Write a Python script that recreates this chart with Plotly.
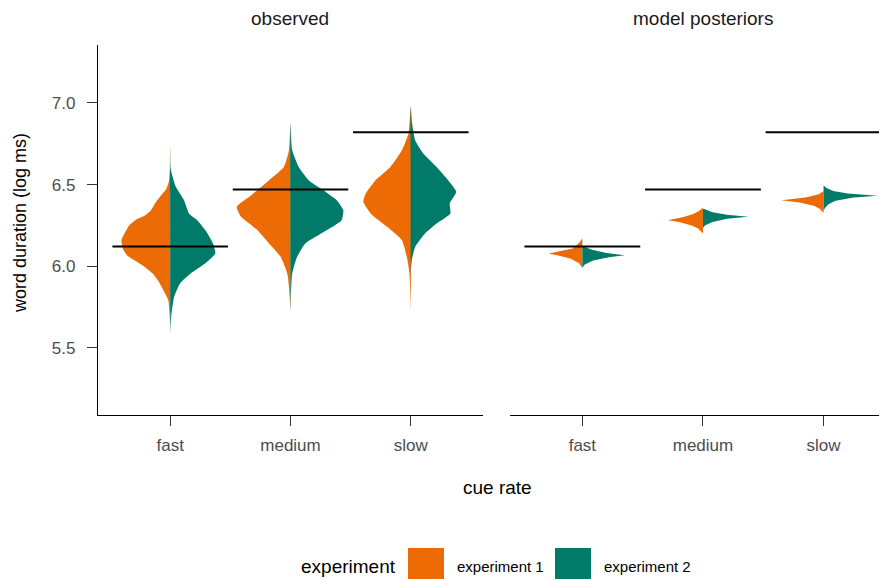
import plotly.graph_objects as go

categories = ["fast", "medium", "slow"]
cat_pos = [1, 2, 3]
line_values = [6.12, 6.47, 6.82]
experiments = ["experiment 1", "experiment 2"]
colors = {"experiment 1": "#EC6B05", "experiment 2": "#017A6A"}

# observed densities: y grid and half-width (category units), per category
obs_e1_y = {
    "fast": [6.75, 6.6, 6.52, 6.47, 6.43, 6.38, 6.343, 6.31, 6.282, 6.25, 6.22, 6.16, 6.1,
             6.06, 6.037, 6.0, 5.955, 5.91, 5.873, 5.83, 5.792, 5.71, 5.6],
    "medium": [6.874, 6.71, 6.608, 6.527, 6.425, 6.363, 6.302, 6.22, 6.139, 6.057, 5.955, 5.833, 5.72],
    "slow": [6.976, 6.813, 6.71, 6.608, 6.527, 6.445, 6.394, 6.323, 6.241, 6.159, 6.057, 5.955, 5.72],
}
obs_e1_w = {
    "fast": [0, 0.003, 0.01, 0.035, 0.08, 0.13, 0.16, 0.21, 0.29, 0.34, 0.365, 0.405, 0.39,
             0.35, 0.30, 0.22, 0.145, 0.10, 0.071, 0.04, 0.016, 0.005, 0],
    "medium": [0, 0.013, 0.055, 0.178, 0.343, 0.447, 0.41, 0.274, 0.178, 0.082, 0.027, 0.008, 0],
    "slow": [0, 0.019, 0.074, 0.17, 0.293, 0.375, 0.395, 0.334, 0.197, 0.074, 0.033, 0.011, 0],
}
obs_e2_y = {
    "fast": [6.75, 6.6, 6.486, 6.404, 6.323, 6.282, 6.22, 6.139, 6.078, 6.016, 5.955, 5.894, 5.812, 5.69, 5.58],
    "medium": [6.874, 6.71, 6.608, 6.527, 6.465, 6.404, 6.343, 6.282, 6.22, 6.139, 6.057, 5.955, 5.833, 5.72],
    "slow": [6.98, 6.874, 6.772, 6.69, 6.608, 6.527, 6.455, 6.384, 6.323, 6.261, 6.2, 6.118, 6.037, 5.95],
}
obs_e2_w = {
    "fast": [0, 0.003, 0.047, 0.115, 0.156, 0.225, 0.293, 0.356, 0.375, 0.29, 0.17, 0.082, 0.033, 0.008, 0],
    "medium": [0, 0.014, 0.068, 0.151, 0.274, 0.384, 0.439, 0.425, 0.30, 0.123, 0.055, 0.014, 0.004, 0],
    "slow": [0, 0.011, 0.036, 0.104, 0.214, 0.31, 0.378, 0.323, 0.329, 0.214, 0.118, 0.036, 0.008, 0],
}

# model posterior densities
post_e1_y = {
    "fast": [6.17, 6.14, 6.108, 6.088, 6.078, 6.065, 6.047, 6.02, 5.99],
    "medium": [6.36, 6.34, 6.32, 6.30, 6.282, 6.27, 6.25, 6.23, 6.2],
    "slow": [6.46, 6.44, 6.42, 6.404, 6.39, 6.37, 6.35, 6.325],
}
post_e1_w = {
    "fast": [0, 0.03, 0.08, 0.2, 0.28, 0.2, 0.1, 0.03, 0],
    "medium": [0, 0.03, 0.08, 0.17, 0.29, 0.2, 0.1, 0.04, 0],
    "slow": [0, 0.04, 0.15, 0.35, 0.2, 0.08, 0.03, 0],
}
post_e2_y = {
    "fast": [6.12, 6.10, 6.08, 6.067, 6.055, 6.035, 6.01, 5.99],
    "medium": [6.35, 6.33, 6.315, 6.302, 6.29, 6.27, 6.25, 6.235],
    "slow": [6.496, 6.48, 6.46, 6.445, 6.431, 6.42, 6.40, 6.38, 6.36, 6.343],
}
post_e2_w = {
    "fast": [0.01, 0.08, 0.2, 0.35, 0.22, 0.09, 0.02, 0],
    "medium": [0.01, 0.08, 0.2, 0.375, 0.2, 0.08, 0.02, 0],
    "slow": [0, 0.02, 0.08, 0.2, 0.447, 0.25, 0.1, 0.04, 0.015, 0],
}

fig = go.Figure()


def add_half(xaxis, yaxis, center, ys, ws, side, color, shape):
    xs = [center + side * w for w in ws]
    px = xs + [center, center]
    py = ys + [ys[-1], ys[0]]
    fig.add_trace(go.Scatter(
        x=px, y=py, fill="toself", fillcolor=color, mode="lines",
        line=dict(width=0, color=color, shape=shape, smoothing=0.5),
        xaxis=xaxis, yaxis=yaxis, showlegend=False, hoverinfo="skip"))


for i, cat in enumerate(categories):
    c = cat_pos[i]
    add_half("x", "y", c, obs_e1_y[cat], obs_e1_w[cat], -1, colors["experiment 1"], "spline")
    add_half("x", "y", c, obs_e2_y[cat], obs_e2_w[cat], 1, colors["experiment 2"], "spline")
    add_half("x2", "y2", c, post_e1_y[cat], post_e1_w[cat], -1, colors["experiment 1"], "linear")
    add_half("x2", "y2", c, post_e2_y[cat], post_e2_w[cat], 1, colors["experiment 2"], "linear")

# horizontal reference lines
for xa, ya in [("x", "y"), ("x2", "y2")]:
    for i, cat in enumerate(categories):
        c = cat_pos[i]
        fig.add_trace(go.Scatter(
            x=[c - 0.48, c + 0.48], y=[line_values[i], line_values[i]],
            mode="lines", line=dict(color="black", width=2),
            xaxis=xa, yaxis=ya, showlegend=False, hoverinfo="skip"))

font = "Liberation Sans, Arial, sans-serif"
yrange = [5.088, 7.355]
tickfont = dict(size=17, color="#4D4D4D", family=font)
xcommon = dict(tickmode="array", tickvals=cat_pos, ticktext=categories,
               showgrid=False, zeroline=False, showline=True, linecolor="black",
               linewidth=1.2, ticks="outside", ticklen=10, tickcolor="#333333",
               tickwidth=1.2, ticklabelstandoff=4, tickfont=tickfont)

W, H = 879, 572
L, T = 90, 37
PW = 789


def px_x(page_x):
    return (page_x - 98) / PW


def px_y(page_y):
    return (415 - page_y) / 370


fig.update_layout(
    width=W, height=H,
    margin=dict(l=L, r=0, t=T, b=H - T - 370),
    plot_bgcolor="white", paper_bgcolor="white",
    font=dict(family=font),
    xaxis=dict(domain=[0, 385 / PW], range=[0.4, 3.6], **xcommon),
    xaxis2=dict(domain=[412 / PW, 1], range=[0.4, 3.526], anchor="y2", **xcommon),
    yaxis=dict(range=yrange, tickvals=[5.5, 6.0, 6.5, 7.0], tickformat=".1f",
               showgrid=False, zeroline=False, showline=True, linecolor="black",
               linewidth=1.2, ticks="outside", ticklen=10, tickcolor="#333333",
               tickwidth=1.2, ticklabelstandoff=8, tickfont=tickfont),
    yaxis2=dict(range=yrange, anchor="x2", showticklabels=False, showgrid=False,
                zeroline=False, showline=False, ticks=""),
)

for text, x in [("observed", 290), ("model posteriors", 703)]:
    fig.add_annotation(text=text, xref="paper", yref="paper", x=px_x(x), y=px_y(18),
                       xanchor="center", yanchor="middle", showarrow=False,
                       font=dict(size=19, color="#1A1A1A", family=font))

fig.add_annotation(text="cue rate", xref="paper", yref="paper", x=px_x(497),
                   y=px_y(487), xanchor="center", yanchor="middle", showarrow=False,
                   font=dict(size=19, color="black", family=font))
fig.add_annotation(text="word duration (log ms)", xref="paper", yref="paper",
                   x=px_x(20), y=px_y(223), xanchor="center", yanchor="middle",
                   textangle=-90, showarrow=False,
                   font=dict(size=18, color="black", family=font))

# legend drawn manually
fig.add_annotation(text="experiment", xref="paper", yref="paper", x=px_x(348),
                   y=px_y(566), xanchor="center", yanchor="middle", showarrow=False,
                   font=dict(size=19, color="black", family=font))
legend_keys = [(408, 444, 455), (555, 591, 602)]
for exp, (x0, x1, xt) in zip(experiments, legend_keys):
    fig.add_shape(type="rect", xref="paper", yref="paper",
                  x0=px_x(x0), x1=px_x(x1), y0=px_y(548), y1=px_y(579),
                  fillcolor=colors[exp], line=dict(width=0))
    fig.add_annotation(text=exp, xref="paper", yref="paper", x=px_x(xt),
                       xanchor="left", y=px_y(566), yanchor="middle", showarrow=False,
                       font=dict(size=15, color="black", family=font))

fig.write_html("out.html")
